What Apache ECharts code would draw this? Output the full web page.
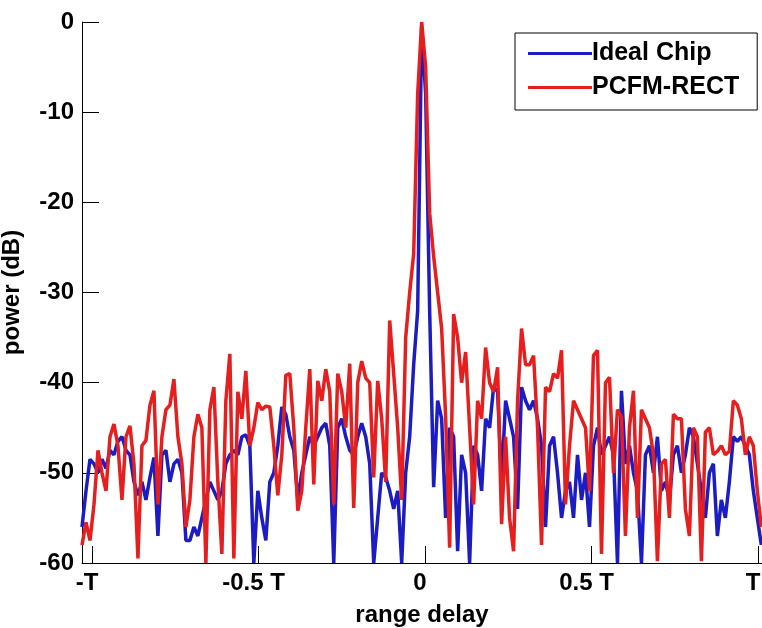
<!DOCTYPE html>
<html>
<head>
<meta charset="utf-8">
<script src="https://cdn.jsdelivr.net/npm/echarts@6/dist/echarts.min.js"></script>
<style>
html,body{margin:0;padding:0;background:#fff;}
#chart{width:762px;height:628px;}
</style>
</head>
<body>
<div id="chart"></div>
<script>
// range delay sample grid (in units of T), evenly sampled
const delayStart = -1.03;
const delayStep = 0.012;

// power (dB), one value per delay sample
const idealChip = [
-56,-52,-48.5,-49,-50,-48.5,-49.5,-47.5,-48,-46.5,
-46,-47.5,-48,-51,-52.5,-51,-53,-50.5,-48.3,-57,
-48,-47.5,-51,-49,-48.5,-50,-57.5,-57.5,-56,-57,
-55,-53,-51,-52,-53,-52,-49,-48,-47.5,-48,
-46,-45.8,-47,-60,-52,-55,-57.5,-51,-50,-47,
-42.7,-43.5,-46,-47.5,-53,-50,-48,-46,-47,-46,
-45,-44.5,-47,-60,-45,-44,-46,-47.5,-48,-46,
-44.5,-46,-49,-60,-55,-50,-50.5,-52,-54,-52,
-60,-50,-46,-38,-32,-0.5,-8,-32,-51.6,-42,
-44,-55,-45,-46,-58.7,-48,-50,-60,-47,-48,
-52,-44,-45,-40.5,-41,-51,-42,-44,-46,-54,
-40.5,-42,-43,-42,-44,-47,-56,-47,-46,-50,
-55,-52,-51,-55,-48,-53,-50,-56,-47,-45,
-48,-47,-46,-48,-60,-40.9,-49,-47,-50,-52,
-60,-48,-47,-50,-46,-52,-51,-53,-48,-47,
-50,-48,-45,-46,-49,-52,-55,-50,-49,-57,
-53,-55,-51,-46,-46.5,-46,-47,-48,-52,-55,
-58
];
const pcfmRect = [
-58,-55.5,-57.5,-53.5,-47.5,-50,-52,-46,-44.6,-47,
-53,-46,-44.8,-49,-59.5,-47,-46.4,-42.5,-40.9,-53.5,
-46,-43,-42.5,-39.6,-46,-49,-56,-53,-46,-43.5,
-45,-60,-43,-40.5,-51,-59,-42,-36.8,-59.5,-41,
-44,-38.7,-47,-45,-42.2,-43,-42.6,-42.7,-47,-52.5,
-48,-39.2,-39,-45,-54.2,-52,-45,-38.5,-51.3,-39.8,
-42,-38.5,-41,-53.5,-39,-41,-45,-37.9,-53.9,-40,
-37.6,-39.5,-40,-50.5,-39.8,-44,-51,-33.1,-39,-45,
-53,-35,-30,-25.7,-8,0,-5,-21.2,-26,-30,
-34,-43.8,-58.3,-32.4,-35,-40,-36.6,-45,-53.5,-42,
-44,-36.1,-40,-41,-38.3,-55.7,-46,-55,-58.7,-42,
-34,-38,-38,-37,-45,-58,-40.5,-41,-39,-39.5,
-36.4,-53.5,-47,-42,-43,-44,-45,-52,-37,-36.4,
-59,-40,-39.4,-50,-43,-43.8,-57,-45,-40.9,-55,
-43,-44,-45,-48,-59.8,-49,-48.5,-55,-43.5,-44,
-44,-54,-57,-45,-46,-59.8,-45.5,-45,-48,-47.6,
-47,-48,-47.6,-42,-42.5,-44,-48,-46,-47,-52,
-56
];

const xTickValues = [-1, -0.5, 0, 0.5, 1];
const xTickLabels = ['-T', '-0.5 T', '0', '0.5 T', 'T'];
const yTicks = [0, -10, -20, -30, -40, -50, -60];
const seriesNames = ['Ideal Chip', 'PCFM-RECT'];

const delay = [];
for (let i = 0; i < idealChip.length; i++) delay.push(+(delayStart + i * delayStep).toFixed(4));

const chart = echarts.init(document.getElementById('chart'), null, {renderer: 'canvas'});
const font = 'Liberation Sans, Arial, Helvetica, sans-serif';

chart.setOption({
  animation: false,
  backgroundColor: '#ffffff',
  grid: {left: 82, right: 0, top: 22, bottom: 65, containLabel: false, outerBoundsMode: 'none'},
  legend: {
    data: seriesNames,
    orient: 'vertical',
    left: 515,
    top: 33,
    padding: [8, 18, 10, 13],
    itemGap: 9,
    itemWidth: 64,
    itemHeight: 3,
    icon: 'rect',
    backgroundColor: '#ffffff',
    borderColor: '#000000',
    borderWidth: 1,
    borderRadius: 0,
    textStyle: {fontFamily: font, fontSize: 25, fontWeight: 'bold', color: '#000', padding: [0, 0, 0, -5], lineHeight: 24}
  },
  xAxis: {
    type: 'value',
    min: delayStart,
    max: 1.012,
    name: 'range delay',
    nameLocation: 'middle',
    nameGap: 40,
    nameTextStyle: {fontFamily: font, fontSize: 24, fontWeight: 'bold', color: '#000'},
    splitLine: {show: false},
    axisLine: {show: true, onZero: false, lineStyle: {color: '#000', width: 1}},
    axisTick: {show: true, inside: true, length: 17, customValues: xTickValues, lineStyle: {color: '#000'}},
    axisLabel: {
      customValues: xTickValues,
      fontFamily: font, fontSize: 24, fontWeight: 'bold', color: '#000', margin: 8,
      padding: [0, 10, 0, 0],
      formatter: function (v) {
        const k = xTickValues.findIndex(t => Math.abs(t - v) < 1e-6);
        return k >= 0 ? xTickLabels[k] : '';
      }
    }
  },
  yAxis: {
    type: 'value',
    min: -60,
    max: 0,
    interval: 10,
    name: 'power (dB)',
    nameLocation: 'middle',
    nameGap: 58,
    nameTextStyle: {fontFamily: font, fontSize: 24, fontWeight: 'bold', color: '#000'},
    splitLine: {show: false},
    axisLine: {show: true, onZero: false, lineStyle: {color: '#000', width: 1}},
    axisTick: {show: true, inside: true, length: 17, lineStyle: {color: '#000'}},
    axisLabel: {fontFamily: font, fontSize: 24, fontWeight: 'bold', color: '#000', margin: 8,
      formatter: function (v) { return yTicks.indexOf(v) >= 0 ? String(v) : ''; }}
  },
  series: [
    {
      name: seriesNames[0],
      type: 'line',
      symbol: 'none',
      clip: true,
      color: '#1c1cc4',
      lineStyle: {color: '#1c1cc4', width: 3.5},
      data: delay.map((d, i) => [d, idealChip[i]])
    },
    {
      name: seriesNames[1],
      type: 'line',
      symbol: 'none',
      clip: true,
      color: '#e61e1e',
      lineStyle: {color: '#e61e1e', width: 3.5},
      data: delay.map((d, i) => [d, pcfmRect[i]])
    }
  ]
});
</script>
</body>
</html>
